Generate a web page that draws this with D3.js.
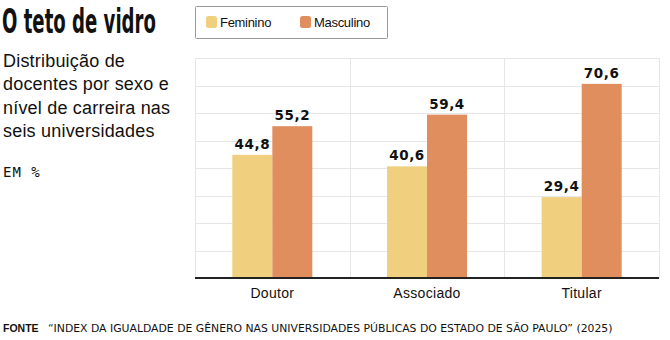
<!DOCTYPE html>
<html>
<head>
<meta charset="utf-8">
<script src="https://cdn.jsdelivr.net/npm/d3@7/dist/d3.min.js"></script>
<style>
  html, body { margin: 0; padding: 0; background: #fff; }
  svg { display: block; }
</style>
</head>
<body>
<svg id="chart" width="670" height="340"></svg>
<script>
const categories = ["Doutor", "Associado", "Titular"];
const seriesNames = ["Feminino", "Masculino"];
const feminino = [44.8, 40.6, 29.4];
const masculino = [55.2, 59.4, 70.6];
const yTicks = [0, 10, 20, 30, 40, 50, 60, 70, 80];
const colors = ["#F0D07E", "#E08E5D"];

const title = "O teto de vidro";
const subtitleLines = ["Distribuição de", "docentes por sexo e", "nível de carreira nas", "seis universidades"];
const unitLabel = "EM %";
const sourceLabel = "FONTE";
const sourceText = "“INDEX DA IGUALDADE DE GÊNERO NAS UNIVERSIDADES PÚBLICAS DO ESTADO DE SÃO PAULO” (2025)";

const fmt = v => d3.format(".1f")(v).replace(".", ",");

const svg = d3.select("#chart");
const margin = {left: 195, right: 11, top: 58, bottom: 62};
const W = 670, H = 340;

const x = d3.scaleBand().domain(categories).range([margin.left, W - margin.right]).paddingInner(0).paddingOuter(0);
const xs = d3.scaleBand().domain(seriesNames).range([0, 80]);
const y = d3.scaleLinear().domain([0, 80]).range([H - margin.bottom, margin.top]);

// horizontal grid
svg.append("g")
  .selectAll("line").data(yTicks.slice(1)).join("line")
  .attr("x1", margin.left).attr("x2", W - margin.right)
  .attr("y1", d => Math.round(y(d)) + 0.5).attr("y2", d => Math.round(y(d)) + 0.5)
  .attr("stroke", "#e6e6e6").attr("stroke-width", 1);

// vertical grid (band boundaries)
const bounds = categories.map(c => x(c)).concat([x(categories[categories.length - 1]) + x.bandwidth()]);
svg.append("g")
  .selectAll("line").data(bounds).join("line")
  .attr("x1", d => Math.round(d) + 0.5).attr("x2", d => Math.round(d) + 0.5)
  .attr("y1", y(80)).attr("y2", y(0))
  .attr("stroke", "#e6e6e6").attr("stroke-width", 1);

const data = categories.map((c, i) => ({cat: c, vals: [
  {s: seriesNames[0], v: feminino[i], c: colors[0]},
  {s: seriesNames[1], v: masculino[i], c: colors[1]}
]}));

const groups = svg.append("g").selectAll("g").data(data).join("g")
  .attr("transform", d => `translate(${x(d.cat) + x.bandwidth() / 2 - 40},0)`);

groups.selectAll("rect").data(d => d.vals).join("rect")
  .attr("x", d => xs(d.s)).attr("width", xs.bandwidth())
  .attr("y", d => y(d.v)).attr("height", d => y(0) - y(d.v))
  .attr("fill", d => d.c);

groups.selectAll("text").data(d => d.vals).join("text")
  .attr("x", d => xs(d.s) + xs.bandwidth() / 2)
  .attr("y", d => y(d.v) - 6)
  .attr("text-anchor", "middle")
  .attr("font-family", "'DejaVu Sans', sans-serif")
  .attr("font-weight", "bold")
  .attr("font-size", 13.5)
  .attr("letter-spacing", 0.6)
  .attr("fill", "#111")
  .text(d => fmt(d.v));

// baseline
svg.append("line")
  .attr("x1", margin.left).attr("x2", W - margin.right)
  .attr("y1", y(0)).attr("y2", y(0))
  .attr("stroke", "#222").attr("stroke-width", 2);

// x axis labels
const xAxis = d3.axisBottom(x).tickSize(0).tickPadding(10);
const gx = svg.append("g").attr("transform", `translate(0,${y(0)})`).call(xAxis);
gx.select(".domain").remove();
gx.selectAll("text")
  .attr("font-family", "'Liberation Sans', Arial, sans-serif")
  .attr("font-size", 14).attr("letter-spacing", 0.3).attr("fill", "#111");

// helper: horizontally squeeze a text to a target width with a transform
function fitWidth(sel, x0, y0, target) {
  const w = sel.node().getComputedTextLength();
  sel.attr("x", 0).attr("y", 0)
    .attr("transform", `translate(${x0},${y0}) scale(${target / w},1)`);
}

// title
const t = svg.append("text")
  .attr("font-family", "'DejaVu Sans Condensed', 'Liberation Sans', sans-serif")
  .attr("font-weight", "bold").attr("font-size", 34)
  .attr("fill", "#111")
  .text(title);
fitWidth(t, 2, 33, 154);

// subtitle
svg.append("g").selectAll("text").data(subtitleLines).join("text")
  .attr("x", 3).attr("y", (d, i) => 67 + i * 23.3)
  .attr("font-family", "'Liberation Sans', Arial, sans-serif")
  .attr("font-size", 18).attr("letter-spacing", 0.2).attr("fill", "#111")
  .text(d => d);

svg.append("text")
  .attr("x", 3).attr("y", 177)
  .attr("font-family", "'DejaVu Sans Mono', monospace")
  .attr("font-size", 14).attr("letter-spacing", 1).attr("fill", "#111")
  .text(unitLabel);

// legend
const lg = svg.append("g");
lg.append("rect").attr("x", 195.5).attr("y", 6.5).attr("width", 192).attr("height", 32)
  .attr("fill", "#fff").attr("stroke", "#999").attr("stroke-width", 1).attr("rx", 1);
const legendX = [206, 300];
seriesNames.forEach((s, i) => {
  lg.append("rect").attr("x", legendX[i]).attr("y", 16).attr("width", 11).attr("height", 12)
    .attr("rx", 2.5).attr("fill", colors[i]);
  lg.append("text").attr("x", legendX[i] + 14).attr("y", 27)
    .attr("font-family", "'Liberation Sans', Arial, sans-serif")
    .attr("font-size", 13).attr("letter-spacing", -0.3).attr("fill", "#111")
    .text(s);
});

// footer
svg.append("text").attr("x", 3).attr("y", 332)
  .attr("font-family", "'Liberation Sans', Arial, sans-serif")
  .attr("font-weight", "bold").attr("font-size", 10.5).attr("fill", "#111")
  .text(sourceLabel);
const src = svg.append("text")
  .attr("font-family", "'DejaVu Sans Condensed', 'Liberation Sans', sans-serif")
  .attr("font-size", 11).attr("fill", "#111")
  .text(sourceText);
fitWidth(src, 48, 332, 565);
</script>
</body>
</html>
